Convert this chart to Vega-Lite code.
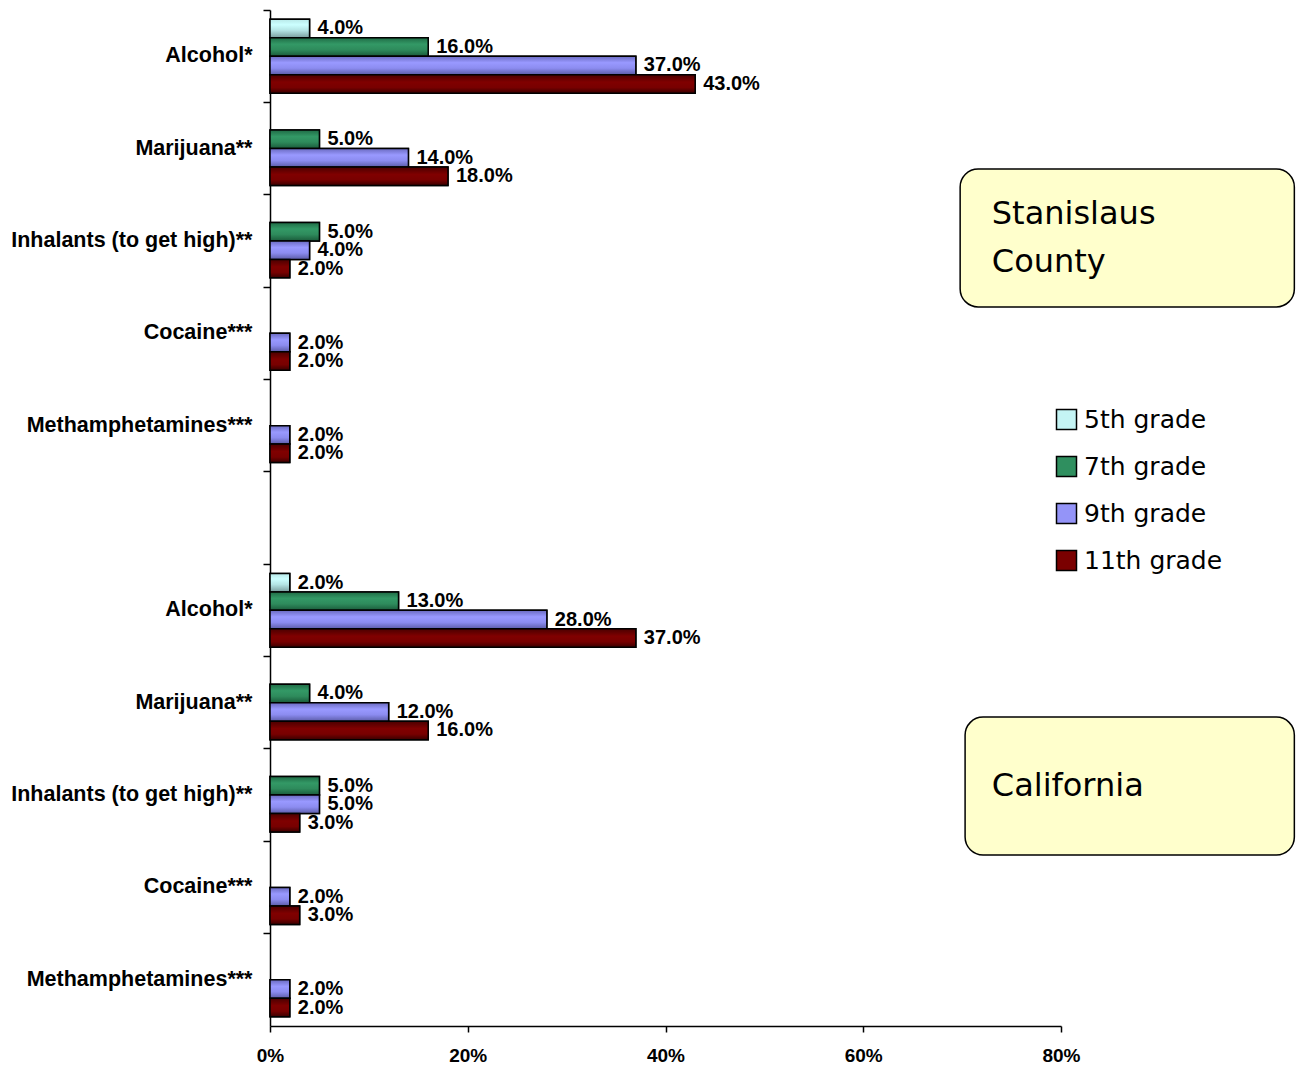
{
  "$schema": "https://vega.github.io/schema/vega-lite/v6.json",
  "autosize": {"type": "none"},
  "padding": {"left": 270, "top": 10, "right": 235, "bottom": 43},
  "width": 791,
  "height": 1016,
  "config": {
    "view": {"stroke": null},
    "axis": {"grid": false, "domainColor": "black", "tickColor": "black", "domainWidth": 1.5, "tickWidth": 1.5, "labelColor": "black"}
  },
  "data": {
    "values": [
      {"row": "Stanislaus|Alcohol*", "grade": "5th grade", "value": 0.04},
      {"row": "Stanislaus|Alcohol*", "grade": "7th grade", "value": 0.16},
      {"row": "Stanislaus|Alcohol*", "grade": "9th grade", "value": 0.37},
      {"row": "Stanislaus|Alcohol*", "grade": "11th grade", "value": 0.43},
      {"row": "Stanislaus|Marijuana**", "grade": "7th grade", "value": 0.05},
      {"row": "Stanislaus|Marijuana**", "grade": "9th grade", "value": 0.14},
      {"row": "Stanislaus|Marijuana**", "grade": "11th grade", "value": 0.18},
      {"row": "Stanislaus|Inhalants (to get high)**", "grade": "7th grade", "value": 0.05},
      {"row": "Stanislaus|Inhalants (to get high)**", "grade": "9th grade", "value": 0.04},
      {"row": "Stanislaus|Inhalants (to get high)**", "grade": "11th grade", "value": 0.02},
      {"row": "Stanislaus|Cocaine***", "grade": "9th grade", "value": 0.02},
      {"row": "Stanislaus|Cocaine***", "grade": "11th grade", "value": 0.02},
      {"row": "Stanislaus|Methamphetamines***", "grade": "9th grade", "value": 0.02},
      {"row": "Stanislaus|Methamphetamines***", "grade": "11th grade", "value": 0.02},
      {"row": "California|Alcohol*", "grade": "5th grade", "value": 0.02},
      {"row": "California|Alcohol*", "grade": "7th grade", "value": 0.13},
      {"row": "California|Alcohol*", "grade": "9th grade", "value": 0.28},
      {"row": "California|Alcohol*", "grade": "11th grade", "value": 0.37},
      {"row": "California|Marijuana**", "grade": "7th grade", "value": 0.04},
      {"row": "California|Marijuana**", "grade": "9th grade", "value": 0.12},
      {"row": "California|Marijuana**", "grade": "11th grade", "value": 0.16},
      {"row": "California|Inhalants (to get high)**", "grade": "7th grade", "value": 0.05},
      {"row": "California|Inhalants (to get high)**", "grade": "9th grade", "value": 0.05},
      {"row": "California|Inhalants (to get high)**", "grade": "11th grade", "value": 0.03},
      {"row": "California|Cocaine***", "grade": "9th grade", "value": 0.02},
      {"row": "California|Cocaine***", "grade": "11th grade", "value": 0.03},
      {"row": "California|Methamphetamines***", "grade": "9th grade", "value": 0.02},
      {"row": "California|Methamphetamines***", "grade": "11th grade", "value": 0.02}
    ]
  },
  "encoding": {
    "y": {
      "field": "row", "type": "nominal",
      "scale": {
        "domain": ["Stanislaus|Alcohol*", "Stanislaus|Marijuana**", "Stanislaus|Inhalants (to get high)**", "Stanislaus|Cocaine***", "Stanislaus|Methamphetamines***", "gap", "California|Alcohol*", "California|Marijuana**", "California|Inhalants (to get high)**", "California|Cocaine***", "California|Methamphetamines***"],
        "paddingInner": 0, "paddingOuter": 0
      },
      "axis": {
        "title": null,
        "bandPosition": 0,
        "tickSize": 7,
        "labelPadding": 11,
        "labelLimit": 400,
        "labelFont": "Liberation Sans",
        "labelFontWeight": "bold",
        "labelFontSize": 21.5,
        "labelExpr": "datum.value == 'gap' ? '' : split(datum.value, '|')[1]"
      }
    },
    "yOffset": {
      "field": "grade", "type": "nominal",
      "scale": {"domain": ["5th grade", "7th grade", "9th grade", "11th grade"], "paddingInner": 0, "paddingOuter": 0.5}
    }
  },
  "layer": [
    {
      "mark": {"type": "bar", "stroke": "black", "strokeWidth": 1.5},
      "encoding": {
        "x": {
          "field": "value", "type": "quantitative",
          "scale": {"domain": [0, 0.8], "nice": false},
          "axis": {"title": null, "format": ".0%", "values": [0, 0.2, 0.4, 0.6, 0.8], "tickSize": 6, "labelPadding": 14, "labelFlush": false, "labelFont": "Liberation Sans", "labelFontWeight": "bold", "labelFontSize": 19}
        },
        "color": {
          "field": "grade", "type": "nominal",
          "scale": {"domain": ["5th grade", "7th grade", "9th grade", "11th grade"], "range": ["#c4f4f4", "#2f8f5f", "#9494f8", "#7a0000"]},
          "legend": {
            "title": null, "orient": "none", "legendX": 784, "legendY": 397,
            "symbolType": "square", "symbolSize": 400, "symbolStrokeColor": "black", "symbolStrokeWidth": 1.5,
            "labelFont": "DejaVu Sans", "labelFontSize": 25, "labelColor": "black", "labelOffset": 5, "rowPadding": 20, "padding": 0, "labelLimit": 300
          }
        }
      }
    },
    {
      "mark": {"type": "bar", "stroke": "black", "strokeWidth": 1.5},
      "encoding": {
        "x": {"field": "value", "type": "quantitative"},
        "fill": {
          "condition": [
            {"test": "datum.grade === '5th grade'", "value": {"gradient": "linear", "x1": 0, "y1": 0, "x2": 0, "y2": 1, "stops": [{"offset": 0, "color": "#b8e8e8"}, {"offset": 0.3, "color": "#ccffff"}, {"offset": 0.6, "color": "#b4e4e4"}, {"offset": 1, "color": "#7a9e9e"}]}},
            {"test": "datum.grade === '7th grade'", "value": {"gradient": "linear", "x1": 0, "y1": 0, "x2": 0, "y2": 1, "stops": [{"offset": 0, "color": "#1f6b45"}, {"offset": 0.35, "color": "#339966"}, {"offset": 0.65, "color": "#2e8b5c"}, {"offset": 1, "color": "#1a5a3a"}]}},
            {"test": "datum.grade === '9th grade'", "value": {"gradient": "linear", "x1": 0, "y1": 0, "x2": 0, "y2": 1, "stops": [{"offset": 0, "color": "#6a6ac0"}, {"offset": 0.35, "color": "#9999ff"}, {"offset": 0.65, "color": "#8c8cf0"}, {"offset": 1, "color": "#5c5ca8"}]}}
          ],
          "value": {"gradient": "linear", "x1": 0, "y1": 0, "x2": 0, "y2": 1, "stops": [{"offset": 0, "color": "#4a0000"}, {"offset": 0.4, "color": "#800000"}, {"offset": 0.7, "color": "#780000"}, {"offset": 1, "color": "#3a0000"}]}
        }
      }
    },
    {
      "mark": {"type": "text", "align": "left", "baseline": "middle", "dx": 8, "font": "Liberation Sans", "fontWeight": "bold", "fontSize": 20, "color": "black"},
      "encoding": {
        "x": {"field": "value", "type": "quantitative"},
        "text": {"field": "value", "type": "quantitative", "format": ".1%"}
      }
    },
    {
      "data": {"values": [{"box": "Stanislaus"}]},
      "mark": {"type": "bar", "height": 138, "cornerRadius": 18, "fill": "#ffffcc", "stroke": "black", "strokeWidth": 1.5, "yOffset": -3},
      "encoding": {
        "x": {"datum": 0.698},
        "x2": {"datum": 1.036},
        "y": {"datum": "Stanislaus|Inhalants (to get high)**"},
        "yOffset": null
      }
    },
    {
      "data": {"values": [{"box": "California"}]},
      "mark": {"type": "bar", "height": 138, "cornerRadius": 18, "fill": "#ffffcc", "stroke": "black", "strokeWidth": 1.5, "yOffset": -9},
      "encoding": {
        "x": {"datum": 0.703},
        "x2": {"datum": 1.036},
        "y": {"datum": "California|Inhalants (to get high)**"},
        "yOffset": null
      }
    },
    {
      "data": {"values": [{"box": "Stanislaus"}]},
      "mark": {"type": "text", "align": "left", "baseline": "middle", "font": "DejaVu Sans", "fontSize": 32, "lineHeight": 48, "color": "black", "yOffset": -27},
      "encoding": {
        "x": {"datum": 0.73},
        "y": {"datum": "Stanislaus|Inhalants (to get high)**"},
        "yOffset": null,
        "text": {"value": ["Stanislaus", "County"]}
      }
    },
    {
      "data": {"values": [{"box": "California"}]},
      "mark": {"type": "text", "align": "left", "baseline": "middle", "font": "DejaVu Sans", "fontSize": 32, "color": "black", "yOffset": -9},
      "encoding": {
        "x": {"datum": 0.73},
        "y": {"datum": "California|Inhalants (to get high)**"},
        "yOffset": null,
        "text": {"value": "California"}
      }
    }
  ]
}
